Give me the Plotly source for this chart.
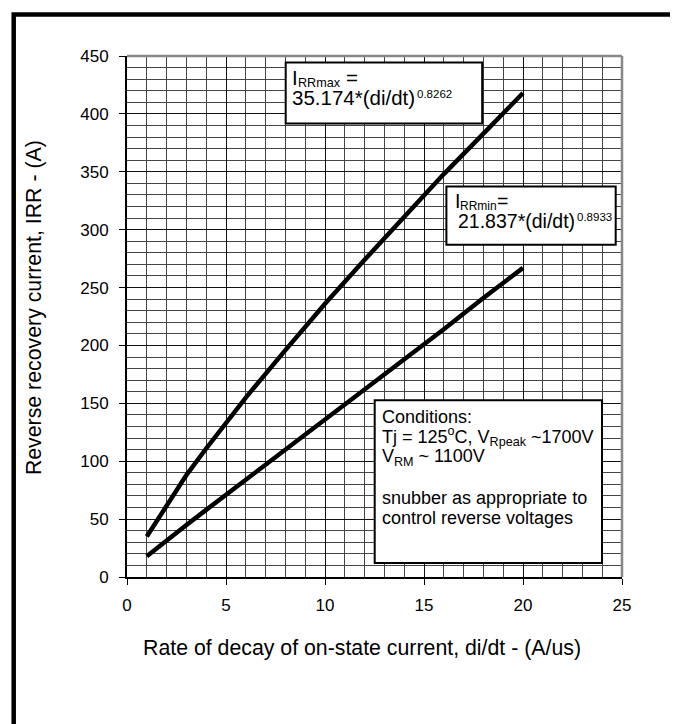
import plotly.graph_objects as go

# Data
didt = [1, 2, 3, 4, 5, 6, 8, 10, 12, 14, 16, 18, 20]
irr_max = [35, 62, 88, 111, 133, 155, 196, 236, 274, 311, 348, 383, 418]
irr_min = [18, 32, 45, 58, 71, 84, 110, 135, 161, 188, 214, 241, 267]

x_ticks = [0, 5, 10, 15, 20, 25]
y_ticks = [0, 50, 100, 150, 200, 250, 300, 350, 400, 450]

FONT = "Arial, Liberation Sans, sans-serif"

# page body has an 8px margin; geometry below is in screen pixels
OFF = 8
W, H = 670, 716
PL, PR, PT, PB = 127.3, 622.3, 55.5, 576.7      # plot area on screen
L, R, T = PL - OFF, OFF + W - PR, PT - OFF
B = OFF + H - PB
PW, PH = PR - PL, PB - PT


def sx(p):
    return (p - PL) / PW


def sy(p):
    return (PB - p) / PH


fig = go.Figure()
fig.add_trace(go.Scatter(x=didt, y=irr_max, mode="lines",
                         line=dict(color="black", width=4.5), showlegend=False))
fig.add_trace(go.Scatter(x=didt, y=irr_min, mode="lines",
                         line=dict(color="black", width=4.5), showlegend=False))

axis_common = dict(
    ticks="outside", ticklen=6, tickcolor="black", tickwidth=1,
    showline=True, linecolor="black", linewidth=2,
    showgrid=True, gridcolor="#111111", gridwidth=1,
    zeroline=False,
    tickfont=dict(family=FONT, size=17, color="black"),
)

fig.update_layout(
    width=W, height=H,
    margin=dict(l=L, r=R, t=T, b=B),
    paper_bgcolor="white", plot_bgcolor="white",
    font=dict(family=FONT, color="black"),
    xaxis=dict(range=[0, 25], tickvals=x_ticks, ticktext=[str(v) for v in x_ticks],
               minor=dict(dtick=1, showgrid=True, gridcolor="#444444", gridwidth=1, ticks=""),
               ticklabelstandoff=6, **axis_common),
    yaxis=dict(range=[0, 450], tickvals=y_ticks, ticktext=[str(v) for v in y_ticks],
               minor=dict(dtick=10, showgrid=True, gridcolor="#444444", gridwidth=1, ticks=""),
               ticklabelstandoff=7, **axis_common),
)


def box(x0, x1, y0, y1):
    return dict(type="rect", xref="paper", yref="paper",
                x0=sx(x0), x1=sx(x1), y0=sy(y1), y1=sy(y0),
                line=dict(color="black", width=2), fillcolor="white", layer="above")


shapes = [
    # outer frame
    dict(type="rect", xref="paper", yref="paper",
         x0=sx(14), x1=sx(674), y0=sy(760), y1=sy(14),
         line=dict(color="black", width=4.5), fillcolor="rgba(0,0,0,0)", layer="above"),
    # gray top / right plot border
    dict(type="line", xref="paper", yref="paper", x0=0, x1=1, y0=1, y1=1,
         line=dict(color="#888888", width=2.5), layer="above"),
    dict(type="line", xref="paper", yref="paper", x0=1, x1=1, y0=0, y1=1,
         line=dict(color="#888888", width=2.5), layer="above"),
    box(286, 482.5, 62, 123),
    box(446.7, 616, 186, 244.3),
    box(375, 602.3, 400, 562.7),
]
fig.update_layout(shapes=shapes)


def label(text, x, y, size, xanchor="left", angle=0):
    fig.add_annotation(x=sx(x), y=sy(y), xref="paper", yref="paper",
                       xanchor=xanchor, yanchor="middle", align="left",
                       showarrow=False, text=text, textangle=angle, borderpad=0,
                       font=dict(family=FONT, size=size, color="black"))


# axis titles
label("Rate of decay of on-state current, di/dt - (A/us)", 362.3, 647.7, 21.3, xanchor="center")
label("Reverse recovery current, IRR - (A)", 35, 307, 21.3, xanchor="center", angle=-90)

# formula box 1
label("I", 291, 77, 20.5)
label("RRmax", 297.5, 83, 12.6)
label("=", 345, 77.5, 20.5)
label("35.174*(di/dt)", 291, 97.5, 20.5)
label("0.8262", 416.5, 93.5, 11.5)

# formula box 2
label("I", 454, 200.5, 19.5)
label("RRmin", 459.5, 206, 12)
label("=", 496, 201, 19.5)
label("21.837*(di/dt)", 457.5, 221, 19.5)
label("0.8933", 576.5, 217, 11.5)

# conditions box
label("Conditions:", 381, 416.5, 18)
label("Tj = 125<sup>o</sup>C, V<sub>Rpeak</sub> ~1700V", 381, 436, 18)
label("V<sub>RM</sub> ~ 1100V", 381, 457, 18)
label("snubber as appropriate to", 381, 497.6, 18)
label("control reverse voltages", 381, 517.6, 18)

fig.write_html("out.html")
